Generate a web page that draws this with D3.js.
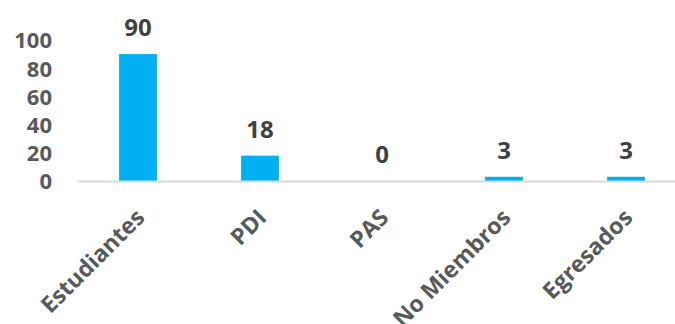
<!DOCTYPE html>
<html>
<head>
<meta charset="utf-8">
<script src="https://cdn.jsdelivr.net/npm/d3@7"></script>
<style>
  html, body { margin: 0; padding: 0; background: #fff; }
  svg { display: block; }
  text { font-family: "Open Sans", "Noto Sans", sans-serif; font-weight: 700; }
</style>
</head>
<body>
<svg id="chart" width="675" height="324"></svg>
<script>
// Participants by group
const categories = ["Estudiantes", "PDI", "PAS", "No Miembros", "Egresados"];
const values = [90, 18, 0, 3, 3];
const yTicks = [0, 20, 40, 60, 80, 100];

const svg = d3.select("#chart");
const plot = { left: 77, right: 687, top: 40, bottom: 181 };

const x = d3.scaleBand()
  .domain(categories)
  .range([plot.left, plot.right])
  .paddingInner(0.69)
  .paddingOuter(0.345);

const y = d3.scaleLinear()
  .domain([0, 100])
  .range([plot.bottom, plot.top]);

// Y axis labels (no axis line, no ticks)
const yAxis = d3.axisLeft(y).tickValues(yTicks).tickSize(0).tickPadding(0);
const yg = svg.append("g")
  .attr("transform", `translate(52,0)`)
  .call(yAxis);
yg.select(".domain").remove();
yg.selectAll("text")
  .attr("fill", "#595959")
  .style("font-size", "22px")
  .style("font-family", "'Open Sans', sans-serif")
  .style("font-weight", 700)
  .attr("dy", "0.36em");

// Bars
svg.append("g").selectAll("rect")
  .data(values)
  .join("rect")
  .attr("x", (d, i) => x(categories[i]))
  .attr("width", x.bandwidth())
  .attr("y", d => y(d))
  .attr("height", d => y(0) - y(d))
  .attr("fill", "#00B0F0");

// Category axis baseline
const xAxis = d3.axisBottom(x).tickSize(0).tickPadding(0);
const xg = svg.append("g")
  .attr("transform", `translate(0,${plot.bottom})`)
  .call(xAxis);
xg.select(".domain")
  .attr("stroke", "#d9d9d9")
  .attr("stroke-width", 2);
xg.selectAll(".tick text")
  .attr("fill", "#595959")
  .style("font-size", "23px")
  .style("font-family", "'Open Sans', sans-serif")
  .style("font-weight", 700)
  .attr("text-anchor", "end")
  .attr("dy", 0)
  .attr("transform", "translate(8,38) rotate(-45)");

// Value labels
svg.append("g").selectAll("text")
  .data(values)
  .join("text")
  .attr("x", (d, i) => x(categories[i]) + x.bandwidth() / 2)
  .attr("y", d => y(d) - 18)
  .attr("text-anchor", "middle")
  .attr("fill", "#404040")
  .style("font-size", "24px")
  .text(d => d);
</script>
</body>
</html>
